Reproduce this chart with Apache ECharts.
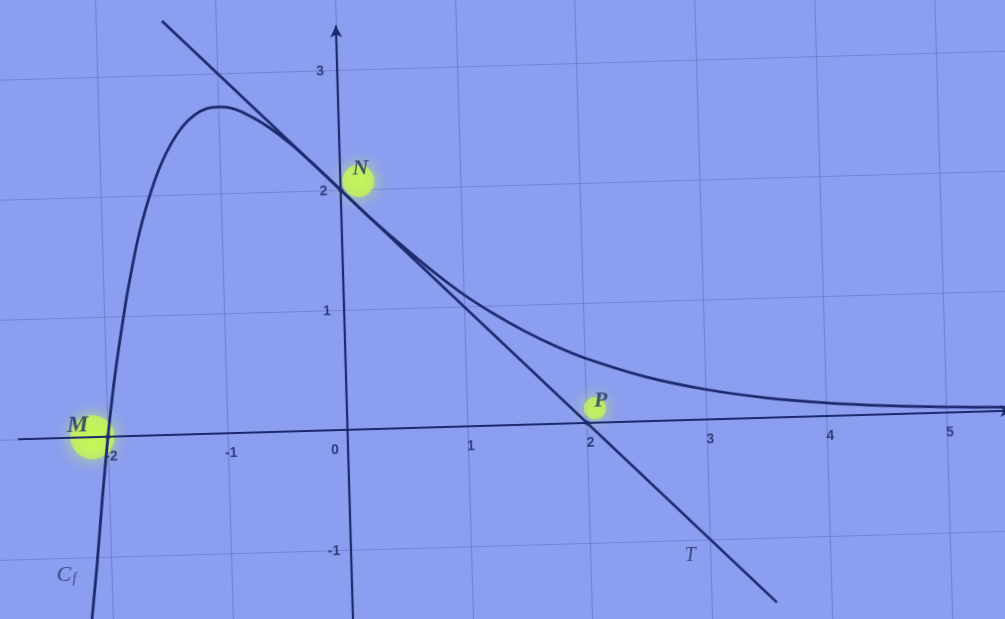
<!DOCTYPE html>
<html>
<head>
<meta charset="UTF-8">
<script src="https://cdn.jsdelivr.net/npm/echarts@6/dist/echarts.min.js"></script>
<style>
html,body{margin:0;padding:0;width:1005px;height:619px;overflow:hidden;background:#8c9ef0;}
#main{position:absolute;left:-37.5px;top:-60.5px;width:1100px;height:730px;transform:rotate(-1.65deg);}
</style>
</head>
<body>
<div id="main"></div>
<script>
var curveX = [-2.2, -2.12, -2.06, -2.0, -1.95, -1.9, -1.85, -1.8, -1.7, -1.6, -1.5, -1.4, -1.3, -1.2, -1.1, -1.0,
  -0.9, -0.8, -0.6, -0.4, -0.2, 0, 0.25, 0.5, 0.75, 1, 1.25, 1.5, 1.75, 2, 2.5, 3, 3.5, 4, 4.5, 5, 5.5];
var curveY = [-1.7, -1.05, -0.5, 0, 0.36, 0.67, 0.95, 1.21, 1.65, 1.98, 2.24, 2.43, 2.57, 2.66, 2.71, 2.72,
  2.71, 2.67, 2.55, 2.39, 2.2, 2.0, 1.75, 1.52, 1.30, 1.10, 0.93, 0.78, 0.65, 0.54, 0.37, 0.25, 0.166, 0.11, 0.072, 0.047, 0.03];
// tangente T
var tangentX = [-1.45, 3.54];
var tangentY = [3.45, -1.54];
// graduations
var xTicks = [-2, -1, 0, 1, 2, 3, 4, 5];
var yTicks = [-1, 1, 2, 3];
// points surlignes M, N, P
var hiX = [-2.13, 0.15, 2.07];
var hiY = [0.0, 2.07, 0.12];
var dotX = [-2, 0, 2];
var dotY = [0, 2, 0];
// lettres
var letters = ['M', 'N', 'P', 'T', 'Cf'];
var letterX = [-2.25, 0.17, 2.12, 2.83, -2.38];
var letterY = [0.1, 2.17, 0.18, -1.13, -1.14];
// axes
var xAxisEnds = [-2.75, 5.55];
var yAxisEnds = [-2.0, 3.37];

var ink = '#1e2a6e';
var hiSizes = [44, 32, 22];
var letterFont = {M: 24, N: 22, P: 22, T: 20, Cf: 22};
var letterWeight = {M: 'bold', N: 'bold', P: 'bold', T: 'normal', Cf: 'normal'};

var chart = echarts.init(document.getElementById('main'));

var curveData = curveX.map(function (x, i) { return [x, curveY[i]]; });
var tangentData = tangentX.map(function (x, i) { return [x, tangentY[i]]; });
var hiData = hiX.map(function (x, i) { return {value: [x, hiY[i]], symbolSize: hiSizes[i]}; });
var dotData = dotX.map(function (x, i) { return [x, dotY[i]]; });
var letterData = letters.map(function (n, i) {
  return {value: [letterX[i], letterY[i], n], label: {fontSize: letterFont[n], fontWeight: letterWeight[n]}};
});
var xTickData = xTicks.map(function (v) {
  return {value: [v, 0, String(v)], label: {offset: v === 0 ? [-13, 20] : [3, 20]}};
});
var yTickData = yTicks.map(function (v) {
  return {value: [0, v, String(v)], label: {offset: [-17, 1]}};
});
var tickLabel = {
  show: true, position: 'inside',
  color: '#1c2660', fontSize: 14, fontWeight: 'bold', fontFamily: 'Liberation Sans',
  formatter: function (p) { return p.value[2]; }
};

var option = {
  backgroundColor: '#8c9ef0',
  animation: false,
  grid: {left: 21.5, right: 0, top: 5, bottom: 5},
  xAxis: {
    type: 'value', min: -3, max: 6, interval: 1,
    axisLine: {show: false},
    axisTick: {show: false},
    axisLabel: {show: false},
    splitLine: {lineStyle: {color: '#7183d3', width: 1.2}}
  },
  yAxis: {
    type: 'value', min: -2, max: 4, interval: 1,
    axisLine: {show: false},
    axisTick: {show: false},
    axisLabel: {show: false},
    splitLine: {lineStyle: {color: '#7183d3', width: 1.2}}
  },
  series: [
    {
      type: 'scatter', z: 1, silent: true,
      data: hiData,
      itemStyle: {color: 'rgba(205,255,70,0.85)', shadowBlur: 16, shadowColor: 'rgba(205,255,70,1)'}
    },
    {
      type: 'line', z: 3, silent: true,
      data: tangentData, showSymbol: false,
      lineStyle: {color: ink, width: 2.6},
      markLine: {
        silent: true, symbol: ['none', 'arrow'], symbolSize: [9, 12],
        label: {show: false},
        lineStyle: {color: ink, width: 2.2, type: 'solid'},
        data: [
          [{coord: [xAxisEnds[0], 0]}, {coord: [xAxisEnds[1], 0]}],
          [{coord: [0, yAxisEnds[0]]}, {coord: [0, yAxisEnds[1]]}]
        ]
      }
    },
    {
      type: 'line', z: 4, silent: true,
      data: curveData, showSymbol: false, smooth: 0.3,
      lineStyle: {color: ink, width: 2.8}
    },
    {
      type: 'scatter', z: 5, silent: true,
      data: dotData, symbolSize: 5,
      itemStyle: {color: ink}
    },
    {
      type: 'scatter', z: 6, silent: true,
      data: xTickData.concat(yTickData), symbolSize: 0,
      label: tickLabel
    },
    {
      type: 'scatter', z: 6, silent: true,
      data: letterData, symbolSize: 0,
      label: {
        show: true, position: 'inside',
        color: '#223064', fontFamily: 'Liberation Serif', fontStyle: 'italic',
        formatter: function (p) { return p.value[2] === 'Cf' ? '{c|C}{s|f}' : p.value[2]; },
        rich: {
          c: {fontSize: 22, fontStyle: 'italic', fontFamily: 'Liberation Serif', color: '#223064'},
          s: {fontSize: 14, fontStyle: 'italic', fontFamily: 'Liberation Serif', color: '#223064', verticalAlign: 'bottom', padding: [10, 0, 0, 1]}
        }
      }
    }
  ]
};
chart.setOption(option);
</script>
</body>
</html>
